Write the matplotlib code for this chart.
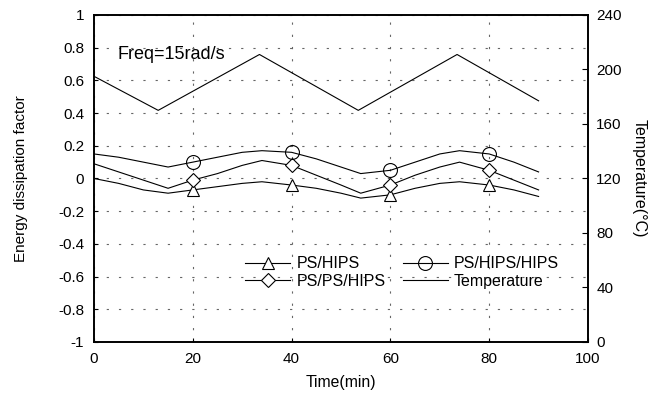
import matplotlib
matplotlib.use("Agg")
import matplotlib.pyplot as plt

plt.rcParams['font.family'] = ['Liberation Sans', 'DejaVu Sans']

# Data
time_pts = [0, 5, 10, 15, 20, 25, 30, 34, 40, 45, 50, 54, 60, 65, 70, 74, 80, 85, 90]
ps_hips = [0.0, -0.03, -0.07, -0.09, -0.07, -0.05, -0.03, -0.02, -0.04, -0.06, -0.09, -0.12, -0.10, -0.06, -0.03, -0.02, -0.04, -0.07, -0.11]
ps_ps_hips = [0.09, 0.04, -0.01, -0.06, -0.01, 0.03, 0.08, 0.11, 0.08, 0.02, -0.04, -0.09, -0.04, 0.02, 0.07, 0.10, 0.05, -0.01, -0.07]
ps_hips_hips = [0.15, 0.13, 0.10, 0.07, 0.10, 0.13, 0.16, 0.17, 0.16, 0.12, 0.07, 0.03, 0.05, 0.10, 0.15, 0.17, 0.15, 0.10, 0.04]
marker_times = [20, 40, 60, 80]

temp_time = [0, 13, 33.5, 53.5, 73.5, 90]
temp_vals = [195, 170, 211, 170, 211, 177]

x_ticks = [0, 20, 40, 60, 80, 100]
y_ticks = [-1, -0.8, -0.6, -0.4, -0.2, 0, 0.2, 0.4, 0.6, 0.8, 1]
y_tick_labels = ['-1', '-0.8', '-0.6', '-0.4', '-0.2', '0', '0.2', '0.4', '0.6', '0.8', '1']
t_ticks = [0, 40, 80, 120, 160, 200, 240]

fig = plt.figure(figsize=(6.49, 3.94), dpi=100)
ax = fig.add_axes([0.1448, 0.132, 0.7612, 0.830])
ax2 = ax.twinx()

mk = [time_pts.index(t) for t in marker_times]
lw = 0.8
h1, = ax.plot(time_pts, ps_hips, color='black', lw=lw, marker='^', markevery=mk,
              markersize=9, markerfacecolor='white', markeredgewidth=0.8, label='PS/HIPS')
h2, = ax.plot(time_pts, ps_ps_hips, color='black', lw=lw, marker='D', markevery=mk,
              markersize=7, markerfacecolor='white', markeredgewidth=0.8, label='PS/PS/HIPS')
h3, = ax.plot(time_pts, ps_hips_hips, color='black', lw=lw, marker='o', markevery=mk,
              markersize=10, markerfacecolor='none', markeredgewidth=0.8, label='PS/HIPS/HIPS')
h4, = ax2.plot(temp_time, temp_vals, color='black', lw=lw, label='Temperature')

ax.set_xlim(0, 100)
ax.set_ylim(-1, 1)
ax2.set_ylim(0, 240)
ax.set_xticks(x_ticks)
ax.set_yticks(y_ticks)
ax.set_yticklabels(y_tick_labels)
ax2.set_yticks(t_ticks)

ax.grid(True, color='#666666', linestyle=(0, (2, 9)), linewidth=0.8)
ax.tick_params(axis='both', direction='in', length=3, labelsize=11, pad=7)
ax2.tick_params(axis='y', direction='in', length=4, labelsize=11, pad=6)
for a in (ax, ax2):
    for s in a.spines.values():
        s.set_linewidth(1.2)

ax.set_xlabel('Time(min)', fontsize=11.3, labelpad=7)
ax.set_ylabel('Energy dissipation factor', fontsize=11, labelpad=22)
ax2.set_ylabel('Temperature(\u00b0C)', fontsize=11.5, rotation=270, labelpad=18)

ax.text(4.7, 0.76, 'Freq=15rad/s', fontsize=13, va='center', ha='left')

leg = ax.legend(handles=[h1, h2, h3, h4], ncol=2, frameon=False, fontsize=11.5,
                loc='upper left', bbox_to_anchor=(0.306, 0.262),
                handlelength=2.8, handletextpad=0.4, columnspacing=1.1, labelspacing=0.15,
                borderpad=0, borderaxespad=0)

fig.savefig('out.png', dpi=100)
